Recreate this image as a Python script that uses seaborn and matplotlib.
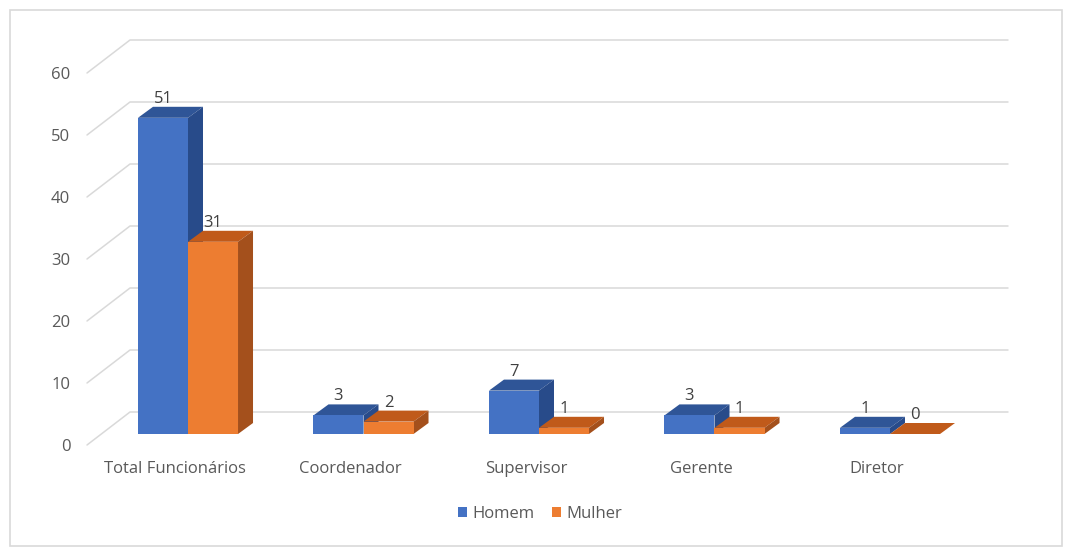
import numpy as np
import pandas as pd
import matplotlib
matplotlib.use("Agg")
import matplotlib.pyplot as plt
import seaborn as sns
from matplotlib.patches import Polygon, Rectangle
from matplotlib.transforms import ScaledTranslation

# ---- data ----
categories = ["Total Funcionários", "Coordenador", "Supervisor", "Gerente", "Diretor"]
homem = [51, 3, 7, 3, 1]
mulher = [31, 2, 1, 1, 0]
series_names = ["Homem", "Mulher"]
yticks = [0, 10, 20, 30, 40, 50, 60]

front_colors = ["#4472C4", "#ED7D31"]
top_colors = ["#2F5597", "#C05A1A"]
side_colors = ["#284B8A", "#A4501C"]
grid_color = "#D9D9D9"
text_color = "#595959"

df = pd.DataFrame({
    "cargo": categories * 2,
    "valor": homem + mulher,
    "sexo": [series_names[0]] * len(categories) + [series_names[1]] * len(categories),
})

sns.set_theme(style="white")
plt.rcParams["font.family"] = ["Open Sans", "DejaVu Sans"]

W, H = 1071, 556
fig = plt.figure(figsize=(W / 100, H / 100), dpi=100)
# axes in pixel placement
L, R, B, T = 80, 1010, 450, 30
ax = fig.add_axes([L / W, 1 - B / H, (R - L) / W, (B - T) / H])

sns.barplot(data=df, x="cargo", y="valor", hue="sexo", palette=front_colors,
            saturation=1, width=0.57, ax=ax, legend=False, linewidth=0, zorder=3)

# scales: category i at pixel 188 + 175.5*i ; value 0 at pixel 434, 6.2 px/unit
px_x = 175.5
px_y = 6.2
x0_px, y0_px = 188, 434
ax.set_xlim((L - x0_px) / px_x, (R - x0_px) / px_x)
ax.set_ylim((y0_px - B) / px_y, (y0_px - T) / px_y)
for s in ax.spines.values():
    s.set_visible(False)
ax.set_xlabel("")
ax.set_ylabel("")

# depth offsets (pixels)
dx_bar, dy_bar = 15 / px_x, 11 / px_y
front_grid_dy = 11 / px_y
back_grid_dy = 22 / px_y
gx_front = (87 - x0_px) / px_x
gx_back = (130 - x0_px) / px_x
gx_end = (1008 - x0_px) / px_x

for v in yticks:
    ax.plot([gx_front, gx_back, gx_end], [v - front_grid_dy, v + back_grid_dy, v + back_grid_dy],
            color=grid_color, lw=1.1, zorder=0, clip_on=False)

# 3D faces for bars
patches = list(ax.patches)
n = len(categories)
for k, p in enumerate(patches):
    si = k // n
    x = p.get_x()
    w = p.get_width()
    h = p.get_height()
    top = Polygon([[x, h], [x + dx_bar, h + dy_bar], [x + w + dx_bar, h + dy_bar], [x + w, h]],
                  closed=True, facecolor=top_colors[si], edgecolor="none",
                  zorder=3 + si * 0.5 + 0.1, clip_on=False)
    side = Polygon([[x + w, 0], [x + w, h], [x + w + dx_bar, h + dy_bar], [x + w + dx_bar, dy_bar]],
                   closed=True, facecolor=side_colors[si], edgecolor="none",
                   zorder=3 + si * 0.5 + 0.1, clip_on=False)
    p.set_zorder(3 + si * 0.5 + 0.2)
    ax.add_patch(top)
    ax.add_patch(side)
    ax.text(x + w / 2, h + dy_bar, f"{int(h)}", ha="center", va="bottom",
            fontsize=12, color="#404040", zorder=10)

# ticks
ax.set_yticks(yticks)
ax.set_yticklabels([str(v) for v in yticks])
ax.tick_params(axis="y", length=0, pad=7, labelsize=12, labelcolor=text_color)
ax.tick_params(axis="x", length=0, pad=8, labelsize=12, labelcolor=text_color)
off_y = ScaledTranslation(0, -11 / 100, fig.dpi_scale_trans)
for lab in ax.get_yticklabels():
    lab.set_transform(lab.get_transform() + off_y)
off_x = ScaledTranslation(-13 / 100, 0, fig.dpi_scale_trans)
for lab in ax.get_xticklabels():
    lab.set_transform(lab.get_transform() + off_x)

# legend
handles = [Rectangle((0, 0), 1, 1, facecolor=c, edgecolor="none") for c in front_colors]
fig.legend(handles, series_names, loc="center", bbox_to_anchor=(540 / W, 1 - 514 / H),
           ncol=2, frameon=False, fontsize=12, handlelength=0.55, handleheight=0.55,
           handletextpad=0.35, columnspacing=1.0, labelcolor=text_color)

# outer frame
fig.patches.append(Rectangle((10 / W, 1 - 546 / H), (1062 - 10) / W, (546 - 10) / H,
                             transform=fig.transFigure, fill=False, edgecolor="#D9D9D9", lw=1.2))

fig.savefig("out.png", dpi=100)
